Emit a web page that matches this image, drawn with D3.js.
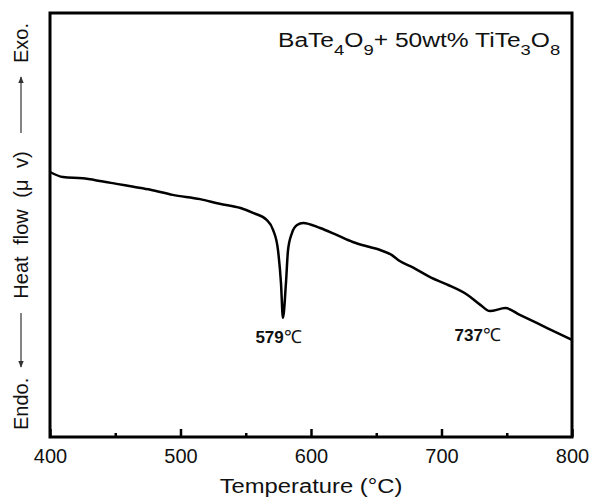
<!DOCTYPE html>
<html>
<head>
<meta charset="utf-8">
<script src="https://cdn.jsdelivr.net/npm/d3@7"></script>
<style>
  body { margin: 0; background: #fff; }
  text { font-family: "Liberation Sans", Arial, sans-serif; fill: #111; }
</style>
</head>
<body>
<div id="chart"></div>
<script>
// DSC trace (arbitrary heat flow units)
var temps = [400, 410, 425, 438, 451, 464, 477, 494, 515, 530, 546, 556, 566, 571, 574.7, 577, 578.5,
             580.8, 582.4, 585.4, 589.3, 594, 607, 620, 632, 645, 653, 662, 668, 678, 692, 704, 720,
             730, 737, 749, 760, 781, 800];
var heatFlow = [62.5, 61.3, 61.0, 60.4, 59.7, 59.0, 58.3, 57.1, 56.1, 55.0, 54.0, 52.8, 51.2, 48.8, 44.1, 36.3, 28.1,
                36.3, 44.1, 48.1, 50.0, 50.5, 49.3, 47.6, 46.0, 44.8, 44.1, 42.9, 41.5, 40.0, 37.6, 36.0, 33.5,
                31.1, 29.7, 30.4, 28.8, 25.7, 22.9];
var xTicks = [400, 500, 600, 700, 800];
var xMinorTicks = [450, 550, 650, 750];
var peakTemps = [579, 737];
var peakValues = [28.1, 29.7];

var data = temps.map(function(t, i) { return {t: t, v: heatFlow[i]}; });

var margin = {top: 13, right: 17, bottom: 63, left: 50},
    width = 589 - margin.left - margin.right,
    height = 500 - margin.top - margin.bottom;

var x = d3.scaleLinear().domain([400, 800]).range([0, width]);
var y = d3.scaleLinear().domain([0, 100]).range([height, 0]);

var svg = d3.select("#chart").append("svg")
    .attr("width", 589)
    .attr("height", 500)
    .append("g")
    .attr("transform", "translate(" + margin.left + "," + margin.top + ")");

// the trace
var line = d3.line()
    .x(function(d) { return x(d.t); })
    .y(function(d) { return y(d.v); })
    .curve(d3.curveMonotoneX);

svg.append("path")
    .datum(data)
    .attr("fill", "none")
    .attr("stroke", "#000")
    .attr("stroke-width", 2.5)
    .attr("stroke-linejoin", "round")
    .attr("d", line);

// ticks pointing inward
svg.append("g")
    .attr("transform", "translate(0," + height + ")")
    .call(d3.axisBottom(x).tickValues(xMinorTicks).tickSize(-4).tickFormat(""))
    .call(function(g) { g.select(".domain").remove(); })
    .selectAll("line").attr("stroke-width", 2.5);

var xAxis = svg.append("g")
    .attr("transform", "translate(0," + height + ")")
    .call(d3.axisBottom(x).tickValues(xTicks).tickSize(-8).tickPadding(12).tickFormat(d3.format("d")));
xAxis.select(".domain").remove();
xAxis.selectAll("line").attr("stroke-width", 2.5);
xAxis.selectAll("text")
    .attr("font-size", 20)
    .attr("font-family", "Liberation Sans, Arial, sans-serif")
    .attr("fill", "#111");

// frame
svg.append("rect")
    .attr("width", width)
    .attr("height", height)
    .attr("fill", "none")
    .attr("stroke", "#000")
    .attr("stroke-width", 3);

// x label (the original lettering is a bit stretched sideways)
svg.append("text")
    .attr("transform", "translate(" + (width / 2) + "," + (height + 56) + ") scale(1.19,1)")
    .attr("text-anchor", "middle")
    .attr("font-size", 20)
    .text("Temperature (°C)");

// y label with arrows
var yl = svg.append("g")
    .attr("transform", "translate(" + (-22) + "," + (height / 2) + ") rotate(-90)");

yl.append("text")
    .attr("x", 0).attr("y", 0)
    .attr("text-anchor", "middle")
    .attr("font-size", 20)
    .attr("word-spacing", 6)
    .text("Heat flow (μ v)");
yl.append("text")
    .attr("x", -(height / 2) + 7).attr("y", 0)
    .attr("text-anchor", "start")
    .attr("font-size", 20)
    .text("Endo.");
yl.append("text")
    .attr("x", (height / 2) - 10).attr("y", 0)
    .attr("text-anchor", "end")
    .attr("font-size", 20)
    .text("Exo.");

var defs = svg.append("defs");
defs.append("marker")
    .attr("id", "arrow")
    .attr("viewBox", "0 0 10 10")
    .attr("refX", 9).attr("refY", 5)
    .attr("markerWidth", 6).attr("markerHeight", 6)
    .attr("orient", "auto")
    .append("path")
    .attr("d", "M0,1L10,5L0,9Z")
    .attr("fill", "#333");

yl.append("line")
    .attr("x1", -88).attr("x2", -142)
    .attr("y1", -7).attr("y2", -7)
    .attr("stroke", "#333").attr("stroke-width", 1.2)
    .attr("marker-end", "url(#arrow)");
yl.append("line")
    .attr("x1", 92).attr("x2", 148)
    .attr("y1", -7).attr("y2", -7)
    .attr("stroke", "#333").attr("stroke-width", 1.2)
    .attr("marker-end", "url(#arrow)");

// sample name
var title = svg.append("text")
    .attr("transform", "translate(228,34) scale(1.23,1)")
    .attr("font-size", 20);
title.append("tspan").text("BaTe");
title.append("tspan").attr("dy", 8).attr("font-size", 15).text("4");
title.append("tspan").attr("dy", -8).text("O");
title.append("tspan").attr("dy", 8).attr("font-size", 15).text("9");
title.append("tspan").attr("dy", -8).text("+ 50wt% TiTe");
title.append("tspan").attr("dy", 8).attr("font-size", 15).text("3");
title.append("tspan").attr("dy", -8).text("O");
title.append("tspan").attr("dy", 8).attr("font-size", 15).text("8");

// peak labels
var labelShift = [[-5, 25], [-12, 30]];
peakTemps.forEach(function(p, i) {
  var t = svg.append("text")
      .attr("x", x(p) + labelShift[i][0])
      .attr("y", y(peakValues[i]) + labelShift[i][1])
      .attr("text-anchor", "middle");
  t.append("tspan").attr("font-weight", "bold").attr("font-size", 17).text(p);
  t.append("tspan").attr("font-family", "Liberation Serif, serif").attr("font-size", 18).text("℃");
});
</script>
</body>
</html>
